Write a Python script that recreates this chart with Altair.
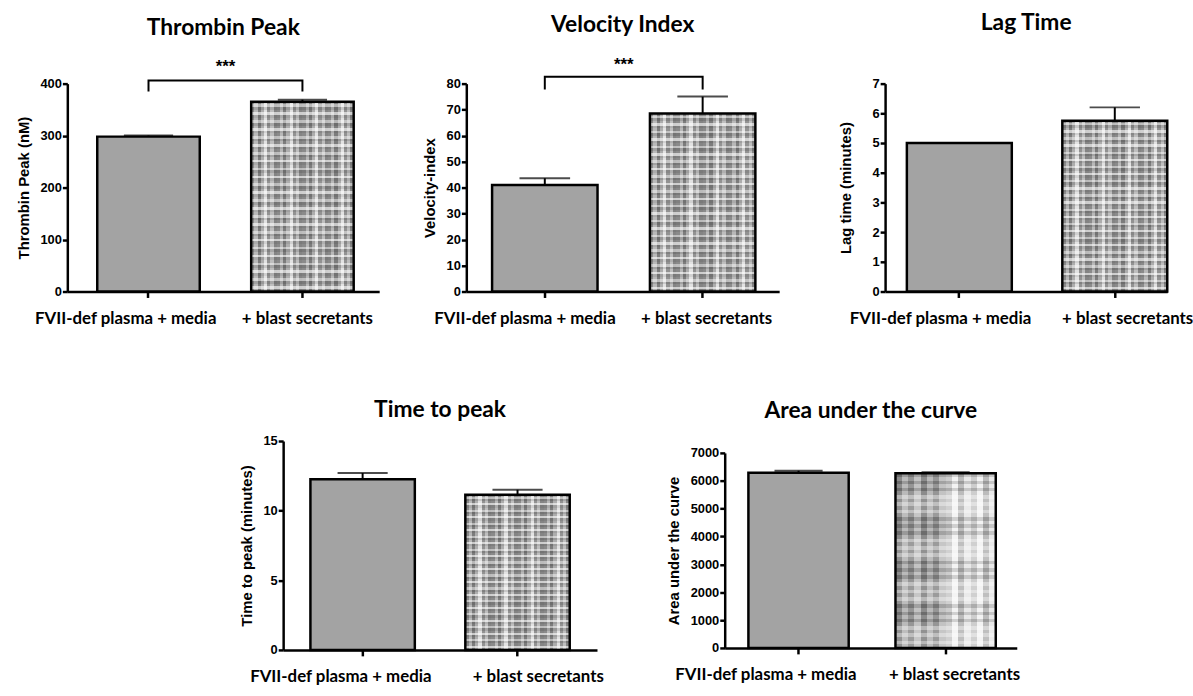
import altair as alt
import pandas as pd

# ---- data -------------------------------------------------------------
groups = ["FVII-def plasma + media", "+ blast secretants"]

thrombin_mean = [298.0, 365.0]
thrombin_sem = [2.0, 4.0]

velocity_mean = [41.0, 68.5]
velocity_sem = [2.6, 6.5]

lag_mean = [5.0, 5.75]
lag_sem = [0.0, 0.45]

ttp_mean = [12.25, 11.15]
ttp_sem = [0.45, 0.35]

auc_mean = [6290.0, 6270.0]
auc_sem = [70.0, 40.0]

# significance brackets: [leg bottom, bar height], star height
thrombin_bracket = [385.0, 406.0]
thrombin_star = 432.0
velocity_bracket = [77.7, 82.6]
velocity_star = 87.0

# ---- styling helpers ----------------------------------------------------
LABEL_FONT = "Liberation Sans"
CAT_FONT = "Lato"


def stripes(seq, reps, vertical):
    """Linear gradient made of hard-edged stripes (used as a hatch-like fill)."""
    k = len(seq) * reps
    stops = []
    for i in range(k):
        c = seq[i % len(seq)]
        stops.append({"offset": i / k, "color": c})
        stops.append({"offset": (i + 1) / k, "color": c})
    if vertical:
        return {"gradient": "linear", "x1": 0, "y1": 0, "x2": 1, "y2": 0, "stops": stops}
    return {"gradient": "linear", "x1": 0, "y1": 0, "x2": 0, "y2": 1, "stops": stops}


FINE_V = ["#8a8a8a", "#b8b8b8", "#7c7c7c", "#adadad", "#e2e2e2", "#929292", "#bebebe", "#848484"]
FINE_H = ["rgba(255,255,255,0)", "rgba(255,255,255,0.45)", "rgba(0,0,0,0.12)",
          "rgba(255,255,255,0)", "rgba(255,255,255,0.6)", "rgba(0,0,0,0.08)"]

COARSE_V = (["#7e7e7e", "#b2b2b2", "#8a8a8a", "#bcbcbc"] * 2
            + ["#c8c8c8", "#f2f2f2", "#b4b4b4", "#e6e6e6"] * 2)
COARSE_H = (["rgba(0,0,0,0.14)", "rgba(255,255,255,0.10)"] * 3
            + ["rgba(255,255,255,0.45)", "rgba(255,255,255,0.15)"] * 3)


def band_layout(W, n, pi, po, align):
    step = W / (n - pi + 2 * po)
    start = (W - step * (n - pi)) * align
    bw = step * (1 - pi)
    centers = [start + i * step + bw / 2 for i in range(n)]
    return centers, bw


def panel(title, ytitle, means, sems, ymax, yvals, W, H, pi, po, align,
          title_offset, label_shift, ytitle_pad=9, coarse=False, yrange_top=0,
          bracket=None, star=None):
    df = pd.DataFrame({
        "group": groups,
        "mean": means,
        "top": [m + s for m, s in zip(means, sems)],
    })
    centers, bw = band_layout(W, len(groups), pi, po, align)

    shift = alt.condition(f"datum.value == '{groups[0]}'",
                          alt.value(label_shift[0]), alt.value(label_shift[1]))
    x = alt.X("group:N", sort=groups,
              scale=alt.Scale(paddingInner=pi, paddingOuter=po, align=align),
              axis=alt.Axis(title=None, labelAngle=0, labelFont=CAT_FONT,
                            labelFontSize=17, labelFontWeight="bold",
                            labelColor="black", labelPadding=13, labelLimit=400,
                            labelOffset=shift,
                            domainColor="black", domainWidth=2.5,
                            tickColor="black", tickWidth=2.5, tickSize=6))
    if yrange_top:
        yscale = alt.Scale(domain=[0, ymax], nice=False, zero=True,
                           range=[H, yrange_top])
    else:
        yscale = alt.Scale(domain=[0, ymax], nice=False, zero=True)
    y = alt.Y("mean:Q", scale=yscale,
              axis=alt.Axis(title=ytitle, values=yvals, tickCount=len(yvals),
                            labelOverlap=False, format="d", grid=False,
                            labelFont=LABEL_FONT, labelFontSize=13,
                            labelFontWeight="bold", labelColor="black",
                            labelPadding=1,
                            titleFont=LABEL_FONT, titleFontSize=15,
                            titleFontWeight="bold", titleColor="black",
                            titlePadding=ytitle_pad,
                            domainColor="black", domainWidth=2.5,
                            tickColor="black", tickWidth=2.5, tickSize=5))

    base = alt.Chart(df)
    fv = COARSE_V if coarse else FINE_V
    fh = COARSE_H if coarse else FINE_H
    reps_v = 1 if coarse else 4
    reps_h = 4 if coarse else 12

    solid = base.transform_filter(alt.datum.group == groups[0]).mark_bar(
        fill="#a3a3a3", stroke="black", strokeWidth=2.5).encode(x=x, y=y)
    hatch_a = base.transform_filter(alt.datum.group == groups[1]).mark_bar(
        fill=stripes(fv, reps_v, True)).encode(x=x, y=y)
    hatch_b = base.transform_filter(alt.datum.group == groups[1]).mark_bar(
        fill=stripes(fh, reps_h, False), stroke="black", strokeWidth=2.5).encode(x=x, y=y)
    err = base.mark_rule(color="black", strokeWidth=2).encode(
        x=x, y=alt.Y("mean:Q"), y2="top:Q")
    cap = base.mark_tick(color="black", thickness=2, size=bw * 0.48,
                         orient="horizontal").encode(x=x, y=alt.Y("top:Q"))

    layers = [err, cap, solid, hatch_a, hatch_b]

    if bracket is not None:
        bdf = pd.DataFrame({
            "group": [groups[0], groups[0], groups[1], groups[1]],
            "yb": [bracket[0], bracket[1], bracket[1], bracket[0]],
            "k": [0, 1, 2, 3],
        })
        br = alt.Chart(bdf).mark_line(color="black", strokeWidth=2, clip=False).encode(
            x=x, y=alt.Y("yb:Q"), order="k:Q")
        sdf = pd.DataFrame({"ys": [star], "t": ["***"]})
        st = alt.Chart(sdf).mark_text(font=LABEL_FONT, fontSize=17, fontWeight="bold",
                                      color="black", clip=False).encode(
            x=alt.value((centers[0] + centers[1]) / 2), y=alt.Y("ys:Q"), text="t:N")
        layers += [br, st]

    return alt.layer(*layers).properties(
        width=W, height=H,
        title=alt.TitleParams(title, font=CAT_FONT, fontSize=23, fontWeight="bold",
                              color="black", anchor="middle", frame="group",
                              offset=title_offset),
    )


p1 = panel("Thrombin Peak", "Thrombin Peak (nM)", thrombin_mean, thrombin_sem,
           400, [0, 100, 200, 300, 400], 315, 210, 0.334, 0.18, 0.54, 18, (-23, 5),
           bracket=thrombin_bracket, star=thrombin_star)
p2 = panel("Velocity Index", "Velocity-index", velocity_mean, velocity_sem,
           80, list(range(0, 81, 10)), 316, 210, 0.332, 0.157, 0.52, 20, (-20, 4),
           bracket=velocity_bracket, star=velocity_star)
p3 = panel("Lag Time", "Lag time (minutes)", lag_mean, lag_sem,
           7, list(range(0, 8)), 285, 210, 0.325, 0.07, 1.0, 43, (-19, 13),
           ytitle_pad=19)
p4 = panel("Time to peak", "Time to peak (minutes)", ttp_mean, ttp_sem,
           15, [0, 5, 10, 15], 317, 211, 0.326, 0.176, 0.5, 13, (-22, 21))
p5 = panel("Area under the curve", "Area under the curve", auc_mean, auc_sem,
           7000, list(range(0, 7001, 1000)), 295, 209, 0.318, 0.152, 0.53, 18, (-33, 9),
           coarse=True, yrange_top=12)

spacer = alt.Chart(pd.DataFrame({"a": [0]})).mark_point(opacity=0).encode(
    x=alt.value(0), y=alt.value(0)).properties(width=110, height=10)

row1 = alt.hconcat(alt.hconcat(p1, p2, spacing=43), p3, spacing=59)
row2 = alt.hconcat(spacer, p4, p5, spacing=63)

chart = alt.vconcat(row1, row2, spacing=74).configure_view(stroke=None).properties(
    background="white", padding={"left": 16, "top": 9, "right": 0, "bottom": 0})

chart.save("out.html", embed_options={"renderer": "svg", "actions": False})
